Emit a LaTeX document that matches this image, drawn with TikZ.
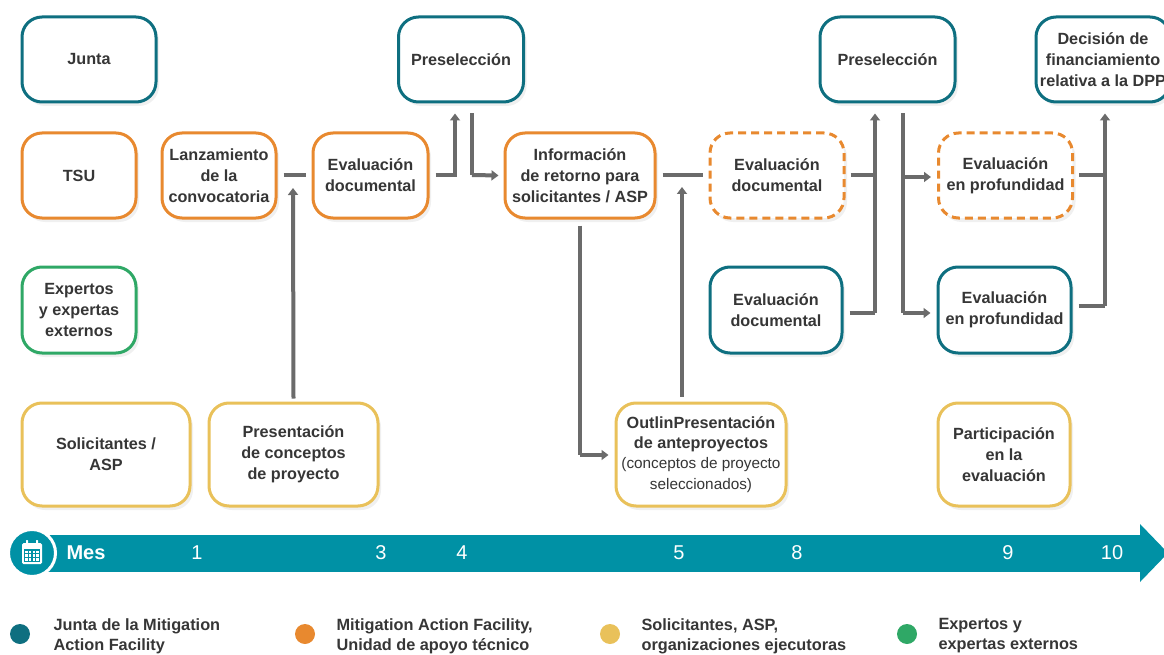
\documentclass[tikz,border=0pt]{standalone}
\usepackage{fontspec}
\setmainfont{Liberation Sans}
\usetikzlibrary{arrows.meta,shadows,calc}
\definecolor{tealb}{HTML}{0E6F80}
\definecolor{orangeb}{HTML}{E8892F}
\definecolor{yellowb}{HTML}{E9C15A}
\definecolor{greenb}{HTML}{2FA866}
\definecolor{txt}{HTML}{363636}
\definecolor{conn}{HTML}{6B6B6B}
\definecolor{band}{HTML}{0091A5}
\newcommand\smallreg{\mdseries\fontsize{15.3}{19.5}\selectfont}
\tikzset{
  box/.style={rounded corners=20pt, line width=3pt, fill=white, align=center,
    font=\bfseries\fontsize{16.2}{20.8}\selectfont, text=txt, inner sep=0pt,
    drop shadow={opacity=0.12, shadow xshift=3pt, shadow yshift=-4pt}},
  dashbox/.style={box, dash pattern=on 8pt off 5pt},
  link/.style={draw=conn, line width=4pt},
  arr/.style={link, -{Triangle[length=7pt,width=10pt]}},
  month/.style={text=white, font=\fontsize{20}{22}\selectfont},
  legtext/.style={text=txt, align=left, anchor=west, font=\bfseries\fontsize{16.3}{20}\selectfont},
}
\begin{document}
\begin{tikzpicture}[x=1pt,y=-1pt]
\useasboundingbox (0,0) rectangle (1164,655);
\clip (0,0) rectangle (1164,655);
% boxes
\node[box, draw=tealb, minimum width=134pt, minimum height=85pt] (junta) at (89,59.5) {Junta};
\node[box, draw=orangeb, minimum width=114pt, minimum height=85pt] (tsu) at (79,175.5) {TSU};
\node[box, draw=greenb, minimum width=114pt, minimum height=86pt] (exp) at (79,310) {Expertos\\y expertas\\externos};
\node[box, draw=yellowb, minimum width=168pt, minimum height=103pt] (sol) at (106,454.5) {Solicitantes /\\ASP};
\node[box, draw=orangeb, minimum width=114pt, minimum height=85pt] (lanz) at (219,175.5) {Lanzamiento\\de la\\convocatoria};
\node[box, draw=yellowb, minimum width=169pt, minimum height=103pt] (pres) at (293.5,454.5) {Presentación\\de conceptos\\de proyecto};
\node[box, draw=orangeb, minimum width=115pt, minimum height=85pt] (ed1) at (370.5,175.5) {Evaluación\\documental};
\node[box, draw=tealb, minimum width=125pt, minimum height=85pt] (pre1) at (461,59.5) {Preselección};
\node[box, draw=orangeb, minimum width=150pt, minimum height=85pt] (info) at (580,175.5) {Información\\de retorno para\\solicitantes / ASP};
\node[box, draw=yellowb, minimum width=170pt, minimum height=103pt] (outl) at (701,454.5) {OutlinPresentación\\de anteproyectos\\[-1pt]\smallreg (conceptos de proyecto\\\smallreg seleccionados)};
\node[dashbox, draw=orangeb, minimum width=134pt, minimum height=85pt] (edd) at (777,175.5) {Evaluación\\documental};
\node[box, draw=tealb, minimum width=132pt, minimum height=86pt] (edt) at (776,310) {Evaluación\\documental};
\node[box, draw=tealb, minimum width=135pt, minimum height=85pt] (pre2) at (887.5,59.5) {Preselección};
\node[dashbox, draw=orangeb, minimum width=134pt, minimum height=85pt] (epd) at (1005.5,175.5) {Evaluación\\en profundidad};
\node[box, draw=tealb, minimum width=133pt, minimum height=86pt] (ept) at (1004.5,310) {Evaluación\\en profundidad};
\node[box, draw=yellowb, minimum width=132pt, minimum height=103pt] (part) at (1004,454.5) {Participación\\en la\\evaluación};
\node[box, draw=tealb, minimum width=134pt, minimum height=85pt] (dec) at (1103,59.5) {Decisión de\\financiamiento\\relativa a la DPP};
% connectors
\coordinate (j1) at (293,175);
\coordinate (j2) at (455,175);
\coordinate (j3) at (472,175);
\coordinate (j4) at (682,175);
\coordinate (j5) at (580,455);
\coordinate (j6) at (875,313);
\coordinate (j7) at (903,313);
\coordinate (j8) at (903,177);
\coordinate (j9) at (1105,306);
\draw[link] ([xshift=6pt]lanz.east) -- ([xshift=-6pt]ed1.west);
\draw[arr] ([yshift=3pt]pres.north) -- ([yshift=-13pt]j1);
\draw[link] ([xshift=6pt]ed1.east) -| (j2);
\draw[arr] (j2) -- ([yshift=-10pt]j2 |- pre1.south);
\draw[link] ([yshift=-10pt]j3 |- pre1.south) -- (j3);
\draw[arr] (j3) -- ([xshift=-5pt]info.west);
\draw[link] ([xshift=6pt]info.east) -- ([xshift=-6pt]edd.west);
\draw[arr] ([yshift=5pt]j4 |- outl.north) -- ([yshift=-12pt]j4);
\draw[link] ([yshift=-6pt]info.south) -- (j5);
\draw[arr] (j5) -- ([xshift=-6pt]outl.west |- j5);
\draw[link] ([xshift=5pt]edd.east |- j4) -- (j4 -| j6);
\draw[link] ([xshift=6pt]edt.east |- j6) -- (j6);
\draw[arr] (j6) -- ([yshift=-10pt]j6 |- pre2.south);
\draw[link] ([yshift=-10pt]j7 |- pre2.south) -- (j7);
\draw[arr] (j7) -- ([xshift=-6pt]ept.west |- j7);
\draw[arr] (j8) -- ([xshift=-6pt]epd.west |- j8);
\draw[link] ([xshift=5pt]epd.east |- j4) -- (j4 -| j9);
\draw[link] ([xshift=6pt]ept.east |- j9) -- (j9);
\draw[arr] (j9) -- ([yshift=-10pt]j9 |- dec.south);
% timeline
\fill[band] (30,535) rectangle (1141,572);
\fill[band] (1140,524) -- (1168,553) -- (1140,582) -- cycle;
\node[circle, fill=band, draw=white, line width=3pt, minimum size=47pt, inner sep=0pt] (cal) at (32,553) {};
\begin{scope}[white]
\fill[rounded corners=1.5pt] (22,543) rectangle (42,564);
\fill[band] (24,549) rectangle (40,562);
\foreach \i in {0,1,2,3} \foreach \j in {0,1,2} {\fill (25.3+\i*3.6,550.5+\j*3.8) rectangle ++(2.4,2.4);}
\fill[rounded corners=0.5pt] (26,540) rectangle (28,545);
\fill[rounded corners=0.5pt] (36,540) rectangle (38,545);
\end{scope}
\node[text=white, font=\bfseries\fontsize{20}{22}\selectfont, anchor=west] (mes) at (63,553) {Mes};
\node[month] (m1) at (197,553) {1};
\node[month] (m3) at (381,553) {3};
\node[month] (m4) at (462,553) {4};
\node[month] (m5) at (679,553) {5};
\node[month] (m8) at (797,553) {8};
\node[month] (m9) at (1008,553) {9};
\node[month] (m10) at (1112,553) {10};
% legend
\fill[tealb] (20,634) circle (10pt);
\node[legtext] (l1) at (50,636) {Junta de la Mitigation\\Action Facility};
\fill[orangeb] (305,634) circle (10pt);
\node[legtext] (l2) at (333,636) {Mitigation Action Facility,\\Unidad de apoyo técnico};
\fill[yellowb] (610,634) circle (10pt);
\node[legtext] (l3) at (638,636) {Solicitantes, ASP,\\organizaciones ejecutoras};
\fill[greenb] (907,634) circle (10pt);
\node[legtext] (l4) at (935,636) {Expertos y\\expertas externos};
\end{tikzpicture}
\end{document}
